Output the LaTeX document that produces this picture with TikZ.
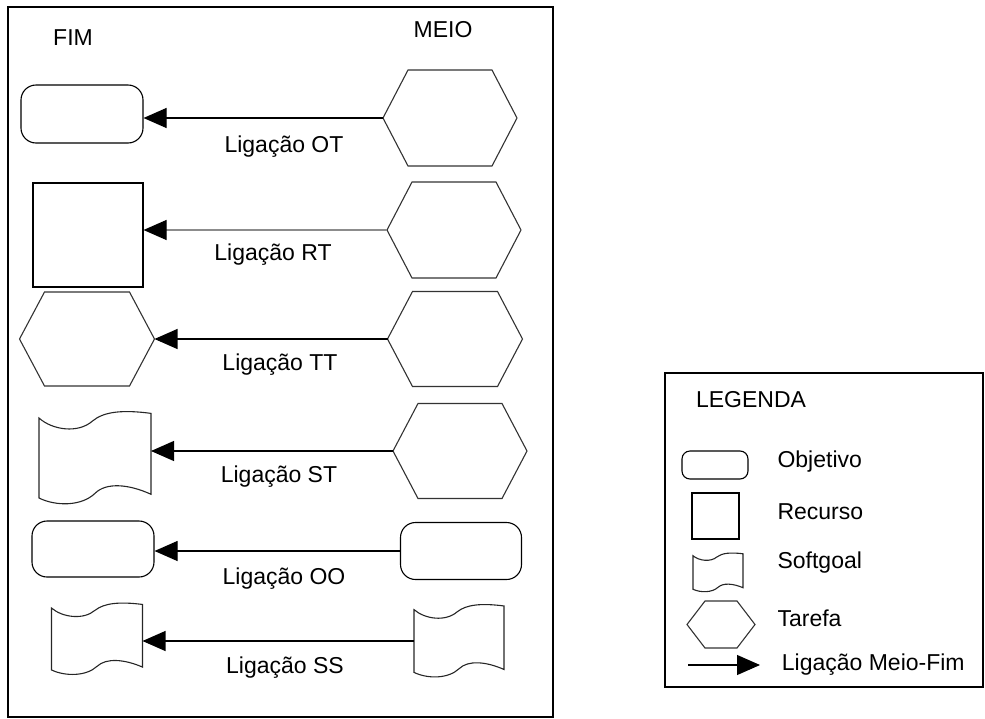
\documentclass[tikz,border=0pt]{standalone}
\usepackage{fontspec}
\setmainfont{Liberation Sans}
\usepackage{tikz}
\usetikzlibrary{arrows.meta,positioning,calc}

\begin{document}
\begin{tikzpicture}[
  x=1pt, y=-1pt,
  line width=1.1pt,
  every node/.style={font=\fontsize{23}{27}\selectfont},
  objetivo/.style n args={3}{draw,rounded corners=#3,minimum width=#1,minimum height=#2,inner sep=0pt},
  recurso/.style 2 args={draw,minimum width=#1,minimum height=#2,inner sep=0pt},
  tarefa/.style n args={3}{minimum width=#1,minimum height=#2,inner sep=0pt,outer sep=0pt,
    append after command={\pgfextra{\let\tarnode\tikzlastnode
      \draw[black!80] (\tarnode.west) -- ([xshift=#3]\tarnode.north west) -- ([xshift=-#3]\tarnode.north east)
        -- (\tarnode.east) -- ([xshift=-#3]\tarnode.south east) -- ([xshift=#3]\tarnode.south west) -- cycle;}}},
  softgoal/.style 2 args={minimum width=#1,minimum height=#2,inner sep=0pt,outer sep=0pt,
    append after command={\pgfextra{\let\sgnode\tikzlastnode
      \draw[black!85,shift={(\sgnode.north west)},x=#1,y=-#2]
        (0,.07) .. controls (.12,.2) and (.35,.24) .. (.48,.1) .. controls (.58,0) and (.75,-.02) .. (1,.02)
        -- (1,.89) .. controls (.8,.78) and (.6,.76) .. (.5,.88) .. controls (.38,1.02) and (.15,1.02) .. (0,.93) -- cycle;}}},
  meiofim/.style={-{Triangle[length=23pt,width=20pt,black]}},
  rotulo/.style={inner sep=0pt},
  legtxt/.style={anchor=west,inner sep=0pt},
]
  \useasboundingbox (0,0) rectangle (985,718);
  \draw (8,7) rectangle (553,717);
  \draw (665,373) rectangle (983,687);

  \node (fim) at (73,38) {FIM};
  \node (meio) at (443,30) {MEIO};

  % fim | meio
  \node[objetivo={122pt}{58pt}{15pt}] (fimOT) at (82,114) {};
  \node[tarefa={134pt}{96pt}{25pt}] (meioOT) at (450,118) {};
  \node[recurso={110pt}{104pt}] (fimRT) at (88,235) {};
  \node[tarefa={134pt}{96pt}{25pt}] (meioRT) at (454,230) {};
  \node[tarefa={135pt}{94pt}{25pt}] (fimTT) at (87,339) {};
  \node[tarefa={135pt}{95pt}{25pt}] (meioTT) at (455,339) {};
  \node[softgoal={112pt}{93pt}] (fimST) at (95,458) {};
  \node[tarefa={134pt}{95pt}{25pt}] (meioST) at (460,451) {};
  \node[objetivo={122pt}{56pt}{15pt}] (fimOO) at (93,549) {};
  \node[objetivo={121pt}{57pt}{15pt}] (meioOO) at (461,551) {};
  \node[softgoal={91pt}{72pt}] (fimSS) at (97,639) {};
  \node[softgoal={90pt}{73pt}] (meioSS) at (459,641) {};

  \draw[meiofim] (meioOT.west) -- (meioOT.west -| fimOT.east);
  \draw[meiofim,draw=black!45] (meioRT.west) -- (meioRT.west -| fimRT.east);
  \draw[meiofim] (meioTT.west) -- (meioTT.west -| fimTT.east);
  \draw[meiofim] (meioST.west) -- (meioST.west -| fimST.east);
  \draw[meiofim] (meioOO.west) -- (meioOO.west -| fimOO.east);
  \draw[meiofim] (meioSS.west) -- (meioSS.west -| fimSS.east);

  \node[rotulo] (rotOT) at (284,147) {Ligação OT};
  \node[rotulo] (rotRT) at (273,255) {Ligação RT};
  \node[rotulo] (rotTT) at (280,365) {Ligação TT};
  \node[rotulo] (rotST) at (279,477) {Ligação ST};
  \node[rotulo] (rotOO) at (284,579) {Ligação OO};
  \node[rotulo] (rotSS) at (285,668) {Ligação SS};

  % legenda
  \node (legenda) at (751,400) {LEGENDA};
  \node[objetivo={66pt}{28pt}{8pt}] (legObj) at (715,465) {};
  \node[recurso={47pt}{46pt}] (legRec) at (715.5,516) {};
  \node[softgoal={50pt}{39pt}] (legSoft) at (718,572.5) {};
  \node[tarefa={68pt}{47pt}{18pt}] (legTar) at (721,624.5) {};
  \coordinate (legIni) at (688,665);
  \coordinate (legFim) at (760,665);
  \draw[meiofim] (legIni) -- (legFim);

  \node[legtxt] (txtObj) at (777,462) {Objetivo};
  \node[legtxt] (txtRec) at (777,512) {Recurso};
  \node[legtxt] (txtSoft) at (777,563) {Softgoal};
  \node[legtxt] (txtTar) at (777,618) {Tarefa};
  \node[right=18pt of legFim] (txtLig) {Ligação Meio-Fim};
\end{tikzpicture}
\end{document}
